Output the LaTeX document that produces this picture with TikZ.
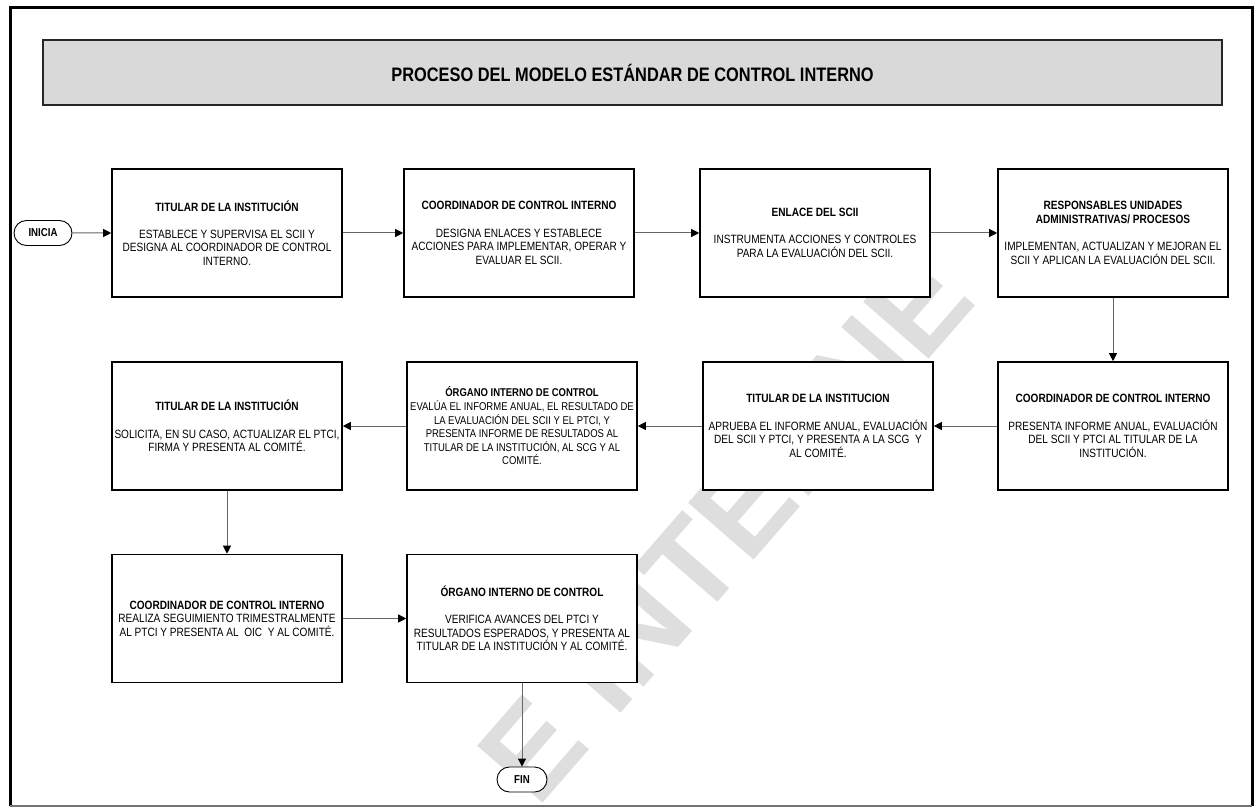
\documentclass[tikz,border=0pt]{standalone}
\usepackage{fontspec}
\setmainfont{Liberation Sans}
\newfontfamily\narrowfont{Liberation Sans}[FakeStretch=0.84]
\usetikzlibrary{arrows.meta,shapes.misc}
\begin{document}
\begin{tikzpicture}[x=1pt,y=-1pt,
  proc/.style={draw=black, line width=1.6pt, fill=white, minimum width=230pt, minimum height=128pt,
    align=center, inner sep=1pt, font=\narrowfont\fontsize{12}{13.6}\selectfont},
  small/.style={font=\narrowfont\fontsize{11.3}{13.6}\selectfont},
  term/.style={draw=black, line width=0.9pt, fill=white, rounded rectangle, minimum height=25pt,
    inner sep=2pt, font=\narrowfont\fontsize{11.5}{12}\selectfont\bfseries},
  conn/.style={draw=black!60, line width=1pt, -{Triangle[length=8pt,width=8pt,color=black]}},
  wmark/.style={text=black!13, font=\fontsize{126}{126}\selectfont\bfseries},
  titlebox/.style={draw=black!85, line width=1.5pt, fill=black!15, minimum width=1179pt, minimum height=65pt,
    font=\narrowfont\fontsize{19.5}{22}\selectfont\bfseries},
]
\useasboundingbox (0,0) rectangle (1257,810);
\fill[white] (0,0) rectangle (1257,810);
% watermark
\node[wmark, rotate=49, anchor=base west] (wm) at (535,812) {E INTERNE};
% frame
\draw[line width=3pt, line join=miter] (10,806) -- (10,8) -- (1252,8) -- (1252,806);
\draw[line width=1.2pt, black!55] (10,806) -- (1252,806);
% title
\node[titlebox] (title) at (632.5,72.5) {PROCESO DEL MODELO ESTÁNDAR DE CONTROL INTERNO};
% row 1
\node[term, minimum width=62pt] (ini) at (43,233) {INICIA};
\node[proc] (b1) at (227,233) {\textbf{TITULAR DE LA INSTITUCIÓN}\\[13.6pt]ESTABLECE Y SUPERVISA EL SCII Y\\DESIGNA AL COORDINADOR DE CONTROL\\INTERNO.};
\node[proc] (b2) at (519,233) {\textbf{COORDINADOR DE CONTROL INTERNO}\\[13.6pt]DESIGNA ENLACES Y ESTABLECE\\ACCIONES PARA IMPLEMENTAR, OPERAR Y\\EVALUAR EL SCII.};
\node[proc] (b3) at (815,233) {\textbf{ENLACE DEL SCII}\\[13.6pt]INSTRUMENTA ACCIONES Y CONTROLES\\PARA LA EVALUACIÓN DEL SCII.};
\node[proc] (b4) at (1113,233) {\textbf{RESPONSABLES UNIDADES}\\\textbf{ADMINISTRATIVAS/ PROCESOS}\\[13.6pt]IMPLEMENTAN, ACTUALIZAN Y MEJORAN EL\\SCII Y APLICAN LA EVALUACIÓN DEL SCII.};
% row 2
\node[proc] (b5) at (1113,426) {\textbf{COORDINADOR DE CONTROL INTERNO}\\[13.6pt]PRESENTA INFORME ANUAL, EVALUACIÓN\\DEL SCII Y PTCI AL TITULAR DE LA\\INSTITUCIÓN.};
\node[proc] (b6) at (818,426) {\textbf{TITULAR DE LA INSTITUCION}\\[13.6pt]APRUEBA EL INFORME ANUAL, EVALUACIÓN\\DEL SCII Y PTCI, Y PRESENTA A LA SCG\ \ Y\\AL COMITÉ.};
\node[proc, small] (b7) at (522,426) {\textbf{ÓRGANO INTERNO DE CONTROL}\\EVALÚA EL INFORME ANUAL, EL RESULTADO DE\\LA EVALUACIÓN DEL SCII Y EL PTCI, Y\\PRESENTA INFORME DE RESULTADOS AL\\TITULAR DE LA INSTITUCIÓN, AL SCG Y AL\\COMITÉ.};
\node[proc] (b8) at (227,426) {\textbf{TITULAR DE LA INSTITUCIÓN}\\[13.6pt]SOLICITA, EN SU CASO, ACTUALIZAR EL PTCI,\\FIRMA Y PRESENTA AL COMITÉ.};
% row 3
\node[proc] (b9) at (227,618.5) {\textbf{COORDINADOR DE CONTROL INTERNO}\\REALIZA SEGUIMIENTO TRIMESTRALMENTE\\AL PTCI Y PRESENTA AL\ \ OIC\ \ Y AL COMITÉ.};
\node[proc] (b10) at (522,618.5) {\textbf{ÓRGANO INTERNO DE CONTROL}\\[13.6pt]VERIFICA AVANCES DEL PTCI Y\\RESULTADOS ESPERADOS, Y PRESENTA AL\\TITULAR DE LA INSTITUCIÓN Y AL COMITÉ.};
\node[term, minimum width=54pt] (fin) at (522,779.5) {FIN};
% connectors
\draw[conn] (ini) -- (b1);
\draw[conn] (b1) -- (b2);
\draw[conn] (b2) -- (b3);
\draw[conn] (b3) -- (b4);
\draw[conn] (b4) -- (b5);
\draw[conn] (b5) -- (b6);
\draw[conn] (b6) -- (b7);
\draw[conn] (b7) -- (b8);
\draw[conn] (b8) -- (b9);
\draw[conn] (b9) -- (b10);
\draw[conn] (b10) -- (fin);
\end{tikzpicture}
\end{document}
